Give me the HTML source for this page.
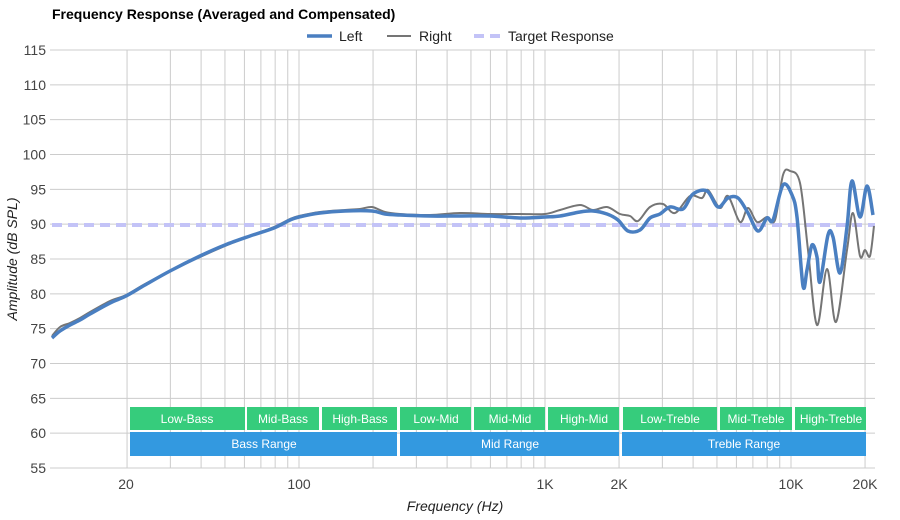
<!DOCTYPE html>
<html><head><meta charset="utf-8"><style>
html,body{margin:0;padding:0;background:#fff;}
svg{display:block;font-family:"Liberation Sans",Arial,sans-serif;}
</style></head><body>
<svg id="s" width="900" height="520" viewBox="0 0 900 520">
<rect width="900" height="520" fill="#fff"/>
<text x="52" y="19" font-size="14" font-weight="bold" fill="#000">Frequency Response (Averaged and Compensated)</text>
<g id="grid" stroke="#ccc" stroke-width="1"></g>
<g id="ylab" font-size="14" fill="#444" text-anchor="end"></g>
<g font-size="14" fill="#444" text-anchor="middle">
<text x="126" y="489">20</text><text x="299" y="489">100</text><text x="545" y="489">1K</text>
<text x="619" y="489">2K</text><text x="791" y="489">10K</text><text x="865" y="489">20K</text>
</g>
<text x="455" y="511" font-size="14" font-style="italic" fill="#222" text-anchor="middle">Frequency (Hz)</text>
<text transform="translate(17,259) rotate(-90)" font-size="14" font-style="italic" fill="#222" text-anchor="middle">Amplitude (dB SPL)</text>
<!-- bands -->
<g fill="#33cc7a" opacity="0.98">
<rect x="130" y="407" width="115" height="23"/><rect x="247" y="407" width="72" height="23"/>
<rect x="322" y="407" width="75" height="23"/><rect x="400" y="407" width="71" height="23"/>
<rect x="474" y="407" width="71" height="23"/><rect x="548" y="407" width="71" height="23"/>
<rect x="623" y="407" width="94" height="23"/><rect x="720" y="407" width="72" height="23"/>
<rect x="795" y="407" width="71" height="23"/>
</g>
<g fill="#3399e0">
<rect x="130" y="432" width="267" height="24"/><rect x="400" y="432" width="219" height="24"/>
<rect x="622" y="432" width="244" height="24"/>
</g>
<g font-size="12" fill="#fff" text-anchor="middle">
<text x="187" y="423">Low-Bass</text><text x="283" y="423">Mid-Bass</text><text x="360" y="423">High-Bass</text>
<text x="436" y="423">Low-Mid</text><text x="510" y="423">Mid-Mid</text><text x="584" y="423">High-Mid</text>
<text x="670" y="423">Low-Treble</text><text x="756" y="423">Mid-Treble</text><text x="831" y="423">High-Treble</text>
<text x="264" y="448">Bass Range</text><text x="510" y="448">Mid Range</text><text x="744" y="448">Treble Range</text>
</g>
<line x1="52" y1="225" x2="875" y2="225" stroke="#c3c3f7" stroke-width="4" stroke-dasharray="10 6"/>
<path id="gray" fill="none" stroke="#757575" stroke-width="2" stroke-linejoin="round"/>
<path id="blue" fill="none" stroke="#4a7fc1" stroke-width="3.5" stroke-linejoin="round"/>
<!-- legend -->
<line x1="307" y1="36" x2="332" y2="36" stroke="#4a7fc1" stroke-width="3.5"/>
<text x="339" y="41" font-size="14" fill="#222">Left</text>
<line x1="387" y1="36" x2="411" y2="36" stroke="#757575" stroke-width="2"/>
<text x="419" y="41" font-size="14" fill="#222">Right</text>
<line x1="474" y1="36" x2="500" y2="36" stroke="#c3c3f7" stroke-width="4" stroke-dasharray="10 6"/>
<text x="508" y="41" font-size="14" fill="#222">Target Response</text>
</svg>
<script>
var NS="http://www.w3.org/2000/svg";
var g=document.getElementById("grid"),yl=document.getElementById("ylab");
function X(f){return 299+246*Math.log10(f/100);}
for(var i=0;i<=12;i++){var y=50+i*418/12;var l=document.createElementNS(NS,"line");
l.setAttribute("x1",50);l.setAttribute("x2",875);l.setAttribute("y1",y);l.setAttribute("y2",y);g.appendChild(l);
var t=document.createElementNS(NS,"text");t.setAttribute("x",46);t.setAttribute("y",y+5);t.textContent=115-5*i;yl.appendChild(t);}
var fs=[20,30,40,50,60,70,80,90,100,200,300,400,500,600,700,800,900,1000,2000,3000,4000,5000,6000,7000,8000,9000,10000,20000];
fs.forEach(function(f){var x=X(f);var l=document.createElementNS(NS,"line");
l.setAttribute("x1",x);l.setAttribute("x2",x);l.setAttribute("y1",50);l.setAttribute("y2",468);g.appendChild(l);});
function cr(p){var d="M"+p[0][0]+","+p[0][1];for(var i=0;i<p.length-1;i++){var p0=p[i-1]||p[i],p1=p[i],p2=p[i+1],p3=p[i+2]||p2;
d+=" C"+(p1[0]+(p2[0]-p0[0])/6)+","+(p1[1]+(p2[1]-p0[1])/6)+" "+(p2[0]-(p3[0]-p1[0])/6)+","+(p2[1]-(p3[1]-p1[1])/6)+" "+p2[0]+","+p2[1];}return d;}
var blue=[[52,338],[60,331],[70,325],[80,320],[90,314],[110,303],[126,296],[145,285],[170,271],[200,256],[225,245],[250,236],[274,228],[290,220],[299,217],[320,213],[345,211],[372,211],[385,214],[400,215],[430,216],[460,216],[490,216],[520,218],[545,217],[560,216],[580,212],[593,211],[607,214],[618,220],[628,231],[640,230],[650,218],[660,214],[670,207],[683,209],[693,194],[707,191],[718,207],[728,198],[738,198],[748,213],[758,231],[767,218],[773,220],[783,185],[792,195],[797,217],[803,286],[807,270],[812,245],[817,257],[820,282],[828,235],[833,237],[840,273],[847,227],[852,181],[860,217],[867,186],[873,215]];
var gray=[[52,336],[60,327],[70,323],[80,318],[90,312],[110,301],[126,295],[145,284],[170,271],[200,257],[225,246],[250,236],[274,227],[290,219],[299,216],[320,212],[345,210],[360,209],[372,207],[385,212],[400,214],[430,215],[460,213],[490,214],[520,214],[545,214],[560,210],[580,205],[593,210],[607,207],[620,214],[630,216],[638,221],[650,207],[663,204],[675,213],[690,196],[702,198],[708,190],[720,208],[728,196],[740,222],[748,208],[757,222],[767,217],[775,220],[783,175],[790,171],[800,183],[808,250],[817,325],[827,269],[836,322],[847,250],[853,213],[860,256],[865,250],[870,256],[874,226]];
document.getElementById("blue").setAttribute("d",cr(blue));
document.getElementById("gray").setAttribute("d",cr(gray));
</script>
</body></html>
